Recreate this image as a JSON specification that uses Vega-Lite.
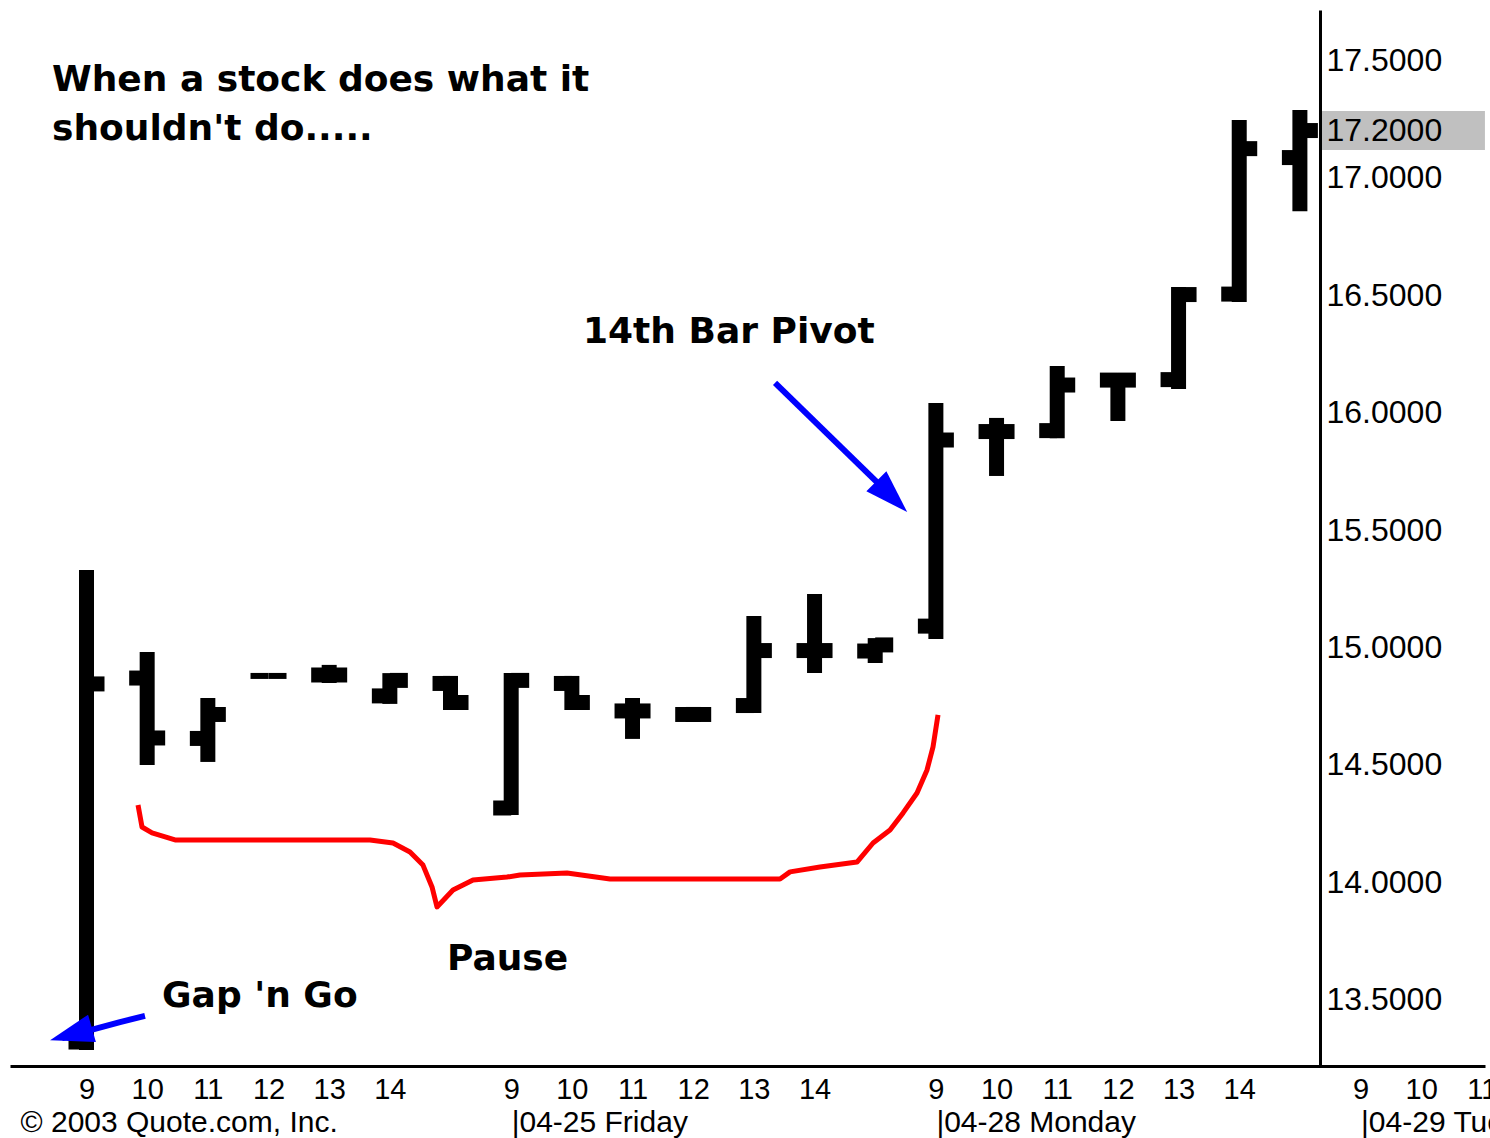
{
  "$schema": "https://vega.github.io/schema/vega-lite/v6.json",
  "width": 1475,
  "height": 1056,
  "autosize": {"type": "none"},
  "padding": {"left": 10, "top": 10, "right": 5, "bottom": 72},
  "background": "white",
  "config": {
    "view": {"stroke": null},
    "axis": {"labelFont": "Liberation Sans", "labelFontSize": 32, "labelColor": "#000000", "grid": false, "title": null}
  },
  "datasets": {
    "bars": [
      {"slot": 0, "day": "04-24", "hour": 9, "open": 13.321, "high": 15.330, "low": 13.287, "close": 14.845},
      {"slot": 1, "day": "04-24", "hour": 10, "open": 14.870, "high": 14.981, "low": 14.500, "close": 14.615},
      {"slot": 2, "day": "04-24", "hour": 11, "open": 14.613, "high": 14.785, "low": 14.513, "close": 14.715},
      {"slot": 3, "day": "04-24", "hour": 12, "open": 14.879, "high": 14.879, "low": 14.879, "close": 14.879},
      {"slot": 4, "day": "04-24", "hour": 13, "open": 14.883, "high": 14.926, "low": 14.849, "close": 14.883},
      {"slot": 5, "day": "04-24", "hour": 14, "open": 14.794, "high": 14.891, "low": 14.760, "close": 14.860},
      {"slot": 6, "day": "04-24", "hour": 15, "open": 14.847, "high": 14.879, "low": 14.734, "close": 14.766},
      {"slot": 7, "day": "04-25", "hour": 9, "open": 14.317, "high": 14.891, "low": 14.287, "close": 14.860},
      {"slot": 8, "day": "04-25", "hour": 10, "open": 14.847, "high": 14.879, "low": 14.734, "close": 14.766},
      {"slot": 9, "day": "04-25", "hour": 11, "open": 14.730, "high": 14.785, "low": 14.611, "close": 14.730},
      {"slot": 10, "day": "04-25", "hour": 12, "open": 14.715, "high": 14.747, "low": 14.683, "close": 14.715},
      {"slot": 11, "day": "04-25", "hour": 13, "open": 14.753, "high": 15.134, "low": 14.721, "close": 14.987},
      {"slot": 12, "day": "04-25", "hour": 14, "open": 14.987, "high": 15.228, "low": 14.891, "close": 14.987},
      {"slot": 13, "day": "04-25", "hour": 15, "open": 14.985, "high": 15.040, "low": 14.934, "close": 15.011},
      {"slot": 14, "day": "04-28", "hour": 9, "open": 15.091, "high": 16.040, "low": 15.036, "close": 15.883},
      {"slot": 15, "day": "04-28", "hour": 10, "open": 15.919, "high": 15.977, "low": 15.730, "close": 15.919},
      {"slot": 16, "day": "04-28", "hour": 11, "open": 15.923, "high": 16.198, "low": 15.891, "close": 16.117},
      {"slot": 17, "day": "04-28", "hour": 12, "open": 16.138, "high": 16.168, "low": 15.964, "close": 16.138},
      {"slot": 18, "day": "04-28", "hour": 13, "open": 16.140, "high": 16.534, "low": 16.100, "close": 16.502},
      {"slot": 19, "day": "04-28", "hour": 14, "open": 16.504, "high": 17.245, "low": 16.470, "close": 17.123},
      {"slot": 20, "day": "04-28", "hour": 15, "open": 17.085, "high": 17.287, "low": 16.857, "close": 17.200}
    ],
    "last": [{"price": 17.2, "from": 20.36, "to": 23.05}],
    "brace": [
      {"n": 0, "slot": 0.849, "price": 14.330},
      {"n": 1, "slot": 0.915, "price": 14.236},
      {"n": 2, "slot": 1.080, "price": 14.211},
      {"n": 3, "slot": 1.459, "price": 14.181},
      {"n": 4, "slot": 4.673, "price": 14.181},
      {"n": 5, "slot": 5.052, "price": 14.168},
      {"n": 6, "slot": 5.332, "price": 14.130},
      {"n": 7, "slot": 5.546, "price": 14.074},
      {"n": 8, "slot": 5.695, "price": 13.981},
      {"n": 9, "slot": 5.777, "price": 13.896},
      {"n": 10, "slot": 6.041, "price": 13.968},
      {"n": 11, "slot": 6.371, "price": 14.011},
      {"n": 12, "slot": 6.931, "price": 14.023},
      {"n": 13, "slot": 7.145, "price": 14.032},
      {"n": 14, "slot": 7.920, "price": 14.040},
      {"n": 15, "slot": 8.629, "price": 14.015},
      {"n": 16, "slot": 11.431, "price": 14.015},
      {"n": 17, "slot": 11.596, "price": 14.045},
      {"n": 18, "slot": 12.090, "price": 14.066},
      {"n": 19, "slot": 12.700, "price": 14.087},
      {"n": 20, "slot": 12.964, "price": 14.168},
      {"n": 21, "slot": 13.244, "price": 14.223},
      {"n": 22, "slot": 13.459, "price": 14.296},
      {"n": 23, "slot": 13.689, "price": 14.381},
      {"n": 24, "slot": 13.854, "price": 14.479},
      {"n": 25, "slot": 13.953, "price": 14.577},
      {"n": 26, "slot": 14.035, "price": 14.713}
    ],
    "arrows": [
      {"arrow": "pivot", "n": 0, "slot": 11.349, "price": 16.126},
      {"arrow": "pivot", "n": 1, "slot": 13.079, "price": 15.691},
      {"arrow": "gap", "n": 0, "slot": 0.964, "price": 13.432},
      {"arrow": "gap", "n": 1, "slot": 0.552, "price": 13.406},
      {"arrow": "gap", "n": 2, "slot": 0.140, "price": 13.377},
      {"arrow": "gap", "n": 3, "slot": -0.404, "price": 13.338}
    ],
    "heads": [
      {"arrow": "pivot", "slot": 13.273, "price": 15.642},
      {"arrow": "gap", "slot": -0.255, "price": 13.354}
    ],
    "notes": [
      {"note": "When a stock does what it", "slot": -0.569, "price": 17.368},
      {"note": "shouldn't do.....", "slot": -0.569, "price": 17.160},
      {"note": "14th Bar Pivot", "slot": 8.184, "price": 16.296},
      {"note": "Pause", "slot": 5.942, "price": 13.628},
      {"note": "Gap 'n Go", "slot": 1.245, "price": 13.470}
    ]
  },
  "resolve": {"axis": {"x": "independent", "y": "independent"}},
  "layer": [
    {
      "data": {"name": "last"},
      "mark": {"type": "rule", "color": "#C0C0C0", "strokeWidth": 39, "strokeCap": "butt"},
      "encoding": {
        "x": {"field": "from", "type": "quantitative", "scale": {"domain": [-1.261, 23.051], "nice": false, "zero": false}, "axis": null},
        "x2": {"field": "to"},
        "y": {"field": "price", "type": "quantitative", "scale": {"domain": [13.219, 17.713], "nice": false, "zero": false}, "axis": null}
      }
    },
    {
      "data": {"name": "bars"},
      "mark": {"type": "rule", "color": "#000000", "strokeWidth": 15, "strokeCap": "butt"},
      "encoding": {
        "x": {
          "field": "slot", "type": "quantitative",
          "scale": {"domain": [-1.261, 23.051], "nice": false, "zero": false},
          "axis": {
            "orient": "bottom",
            "values": [0, 1, 2, 3, 4, 5, 7, 8, 9, 10, 11, 12, 14, 15, 16, 17, 18, 19, 21, 22, 23],
            "labelExpr": "'' + (9 + (datum.value % 7))",
            "ticks": false, "tickSize": 0,
            "domain": true, "domainColor": "#000000", "domainWidth": 3,
            "labelFontSize": 29,
            "labelPadding": 9, "labelOverlap": false, "labelFlush": false
          }
        },
        "y": {
          "field": "low", "type": "quantitative",
          "scale": {"domain": [13.219, 17.713], "nice": false, "zero": false},
          "axis": {
            "orient": "right", "offset": -165,
            "values": [13.5, 14, 14.5, 15, 15.5, 16, 16.5, 17, 17.2, 17.5],
            "format": ".4f",
            "ticks": false, "tickSize": 0,
            "domain": true, "domainColor": "#000000", "domainWidth": 3,
            "labelPadding": 6, "labelOverlap": false, "labelFlush": false, "zindex": 1
          }
        },
        "y2": {"field": "high"}
      }
    },
    {
      "data": {"name": "bars"},
      "mark": {"type": "rule", "color": "#000000", "strokeCap": "butt", "xOffset": -18},
      "encoding": {
        "x": {"field": "slot", "type": "quantitative", "scale": {"domain": [-1.261, 23.051], "nice": false, "zero": false}, "axis": null},
        "x2": {"field": "slot"},
        "y": {"field": "open", "type": "quantitative", "scale": {"domain": [13.219, 17.713], "nice": false, "zero": false}, "axis": null},
        "strokeWidth": {"condition": {"test": "datum.high == datum.low", "value": 6}, "value": 15}
      }
    },
    {
      "data": {"name": "bars"},
      "mark": {"type": "rule", "color": "#000000", "strokeCap": "butt", "x2Offset": 18},
      "encoding": {
        "x": {"field": "slot", "type": "quantitative", "scale": {"domain": [-1.261, 23.051], "nice": false, "zero": false}, "axis": null},
        "x2": {"field": "slot"},
        "y": {"field": "close", "type": "quantitative", "scale": {"domain": [13.219, 17.713], "nice": false, "zero": false}, "axis": null},
        "strokeWidth": {"condition": {"test": "datum.high == datum.low", "value": 6}, "value": 15}
      }
    },
    {
      "data": {"name": "brace"},
      "mark": {"type": "line", "color": "#FF0000", "strokeWidth": 5, "strokeJoin": "round"},
      "encoding": {
        "x": {"field": "slot", "type": "quantitative", "scale": {"domain": [-1.261, 23.051], "nice": false, "zero": false}, "axis": null},
        "y": {"field": "price", "type": "quantitative", "scale": {"domain": [13.219, 17.713], "nice": false, "zero": false}, "axis": null},
        "order": {"field": "n", "type": "quantitative"}
      }
    },
    {
      "data": {"name": "arrows"},
      "mark": {"type": "line", "color": "#0000FF", "strokeWidth": 6, "strokeJoin": "round"},
      "encoding": {
        "x": {"field": "slot", "type": "quantitative", "scale": {"domain": [-1.261, 23.051], "nice": false, "zero": false}, "axis": null},
        "y": {"field": "price", "type": "quantitative", "scale": {"domain": [13.219, 17.713], "nice": false, "zero": false}, "axis": null},
        "detail": {"field": "arrow", "type": "nominal"},
        "order": {"field": "n", "type": "quantitative"}
      }
    },
    {
      "data": {"name": "heads"},
      "mark": {"type": "point", "filled": true, "color": "#0000FF", "opacity": 1, "shape": "M0,-1L0.65,1L-0.65,1Z", "size": 1900},
      "encoding": {
        "x": {"field": "slot", "type": "quantitative", "scale": {"domain": [-1.261, 23.051], "nice": false, "zero": false}, "axis": null},
        "y": {"field": "price", "type": "quantitative", "scale": {"domain": [13.219, 17.713], "nice": false, "zero": false}, "axis": null},
        "angle": {"field": "arrow", "type": "nominal", "scale": {"domain": ["pivot", "gap"], "range": [135, 254]}, "legend": null}
      }
    },
    {
      "data": {"name": "notes"},
      "mark": {"type": "text", "font": "DejaVu Sans", "fontWeight": "bold", "fontSize": 36, "align": "left", "baseline": "alphabetic", "color": "#000000"},
      "encoding": {
        "x": {
          "field": "slot", "type": "quantitative",
          "scale": {"domain": [-1.261, 23.051], "nice": false, "zero": false},
          "axis": {
            "orient": "bottom",
            "values": [-1.096, 7, 14, 21],
            "labelExpr": "datum.value < 0 ? '© 2003 Quote.com, Inc.' : datum.value == 7 ? '|04-25 Friday' : datum.value == 14 ? '|04-28 Monday' : '|04-29 Tuesday'",
            "ticks": false, "tickSize": 0, "domain": false,
            "labelFontSize": 30,
            "labelAlign": "left", "labelPadding": 41, "labelLimit": 1000,
            "labelOverlap": false, "labelFlush": false
          }
        },
        "y": {"field": "price", "type": "quantitative", "scale": {"domain": [13.219, 17.713], "nice": false, "zero": false}, "axis": null},
        "text": {"field": "note", "type": "nominal"}
      }
    }
  ]
}
